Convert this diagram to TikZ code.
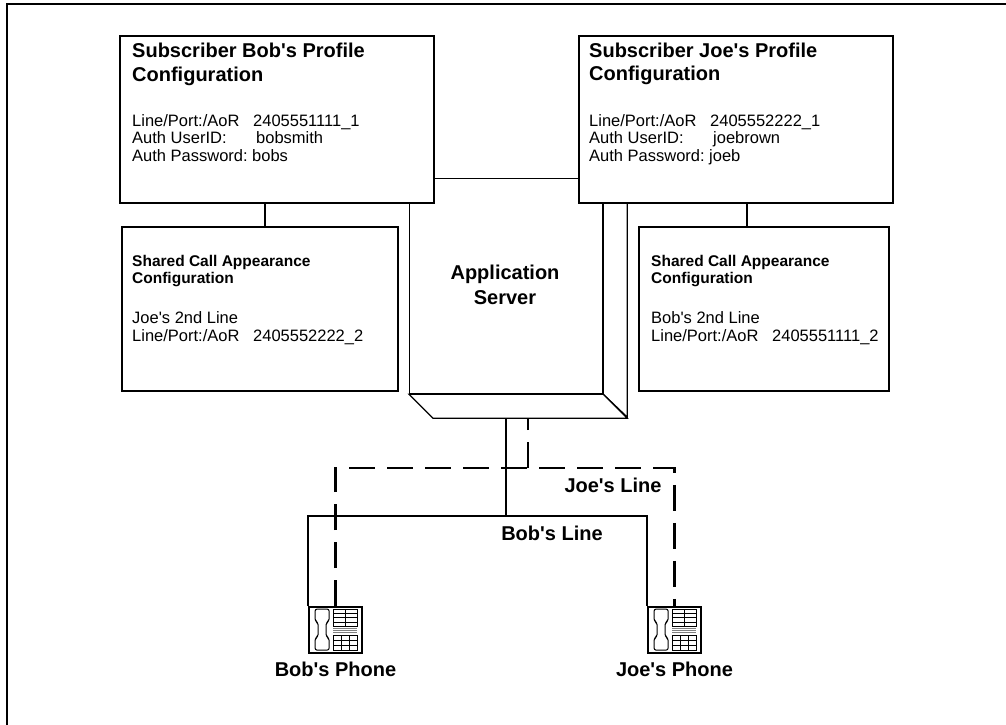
\documentclass[tikz,border=0pt]{standalone}
\usepackage{fontspec}
\setmainfont{Liberation Sans}[Ligatures=TeXOff]
\usetikzlibrary{positioning}

\tikzset{
  cfgbox/.style={draw, line width=1.8pt, fill=white, anchor=north west, inner sep=0pt},
  srvbox/.style={draw, line width=1.2pt, fill=white, anchor=north west, inner sep=0pt,
    minimum width=193pt, minimum height=215pt},
  srvline/.style={line width=1.2pt, fill=white, line join=miter},
  wire/.style={line width=1.3pt},
  joeline/.style={line width=2.4pt, dash pattern=on 26pt off 12pt},
  title/.style={anchor=base west, inner sep=0pt, font=\fontsize{20}{24}\selectfont\bfseries},
  body/.style={anchor=base west, inner sep=0pt, font=\fontsize{16.5}{17.5}\selectfont},
  scatitle/.style={anchor=base west, inner sep=0pt, font=\fontsize{15.5}{17.5}\selectfont\bfseries},
  scabody/.style={anchor=base west, inner sep=0pt, font=\fontsize{16.5}{18.5}\selectfont},
  lbl/.style={inner sep=0pt, font=\fontsize{20}{24}\selectfont\bfseries},
  phone/.style={draw, line width=1.8pt, fill=white, minimum width=53pt, minimum height=46pt, inner sep=0pt},
  keys/.style={line width=0.6pt}
}

% handset and keypads, drawn inside a phone node
\newcommand{\phonekeys}[1]{
  \begin{scope}[shift={(#1.north west)}]
    \draw[line width=1pt, rounded corners=2pt] (7,3) -- (21,3) -- (21,15) -- (18,16.5) -- (18,30.5)
      -- (21,32) -- (21,44) -- (7,44) -- (7,32) -- (10,30.5) -- (10,16.5) -- (7,15) -- cycle;
    \draw[keys] (25,3) rectangle (49,20);
    \draw[keys] (37,3) -- (37,20);
    \foreach \y in {7.25,11.5,15.75} \draw[keys] (25,\y) -- (49,\y);
    \foreach \y in {22,24,26} \draw[line width=0.8pt, gray] (25,\y) -- (49,\y);
    \draw[keys] (25,29) rectangle (49,44);
    \foreach \x in {33,41} \draw[keys] (\x,29) -- (\x,44);
    \foreach \y in {34,39} \draw[keys] (25,\y) -- (49,\y);
  \end{scope}
}

\begin{document}
\begin{tikzpicture}[x=1pt, y=-1pt]
  \useasboundingbox (0,0) rectangle (1006,725);
  \draw[line width=2.5pt] (1006,4) -- (7,4) -- (7,725);

  % application server
  \node[srvbox] (server) at (409,178) {};
  \coordinate (srvbl) at ([shift={(24,24)}]server.south west);
  \draw[srvline] (server.north east) -- ++(24,24) -- ++(0,215) -- (server.south east) -- cycle;
  \draw[srvline] (server.south west) -- (server.south east) -- ++(24,24) -- (srvbl) -- cycle;
  \node[lbl, anchor=base] (srvtext) at (505,279)
    {\begin{tabular}[t]{@{}c@{}}Application\\[1pt]Server\end{tabular}};

  % profile boxes
  \node[cfgbox, minimum width=314pt, minimum height=167pt] (bobprof) at (119,35) {};
  \node[cfgbox, minimum width=314pt, minimum height=167pt] (joeprof) at (578,35) {};
  \node[title] (bobtitle) at (132,58)
    {\begin{tabular}[t]{@{}l@{}}Subscriber Bob's Profile\\Configuration\end{tabular}};
  \node[body] (bobdata) at (132,126)
    {\begin{tabular}[t]{@{}l@{}}\makebox[121pt][l]{Line/Port:/AoR}2405551111\_1\\
      \makebox[124pt][l]{Auth UserID:}bobsmith\\
      \makebox[120pt][l]{Auth Password:}bobs\end{tabular}};
  \node[title] (joetitle) at (589,57)
    {\begin{tabular}[t]{@{}l@{}}Subscriber Joe's Profile\\Configuration\end{tabular}};
  \node[body] (joedata) at (589,126)
    {\begin{tabular}[t]{@{}l@{}}\makebox[121pt][l]{Line/Port:/AoR}2405552222\_1\\
      \makebox[124pt][l]{Auth UserID:}joebrown\\
      \makebox[120pt][l]{Auth Password:}joeb\end{tabular}};

  % shared call appearance boxes
  \node[cfgbox, minimum width=276pt, minimum height=164pt] (bobsca) at (121,226) {};
  \node[cfgbox, minimum width=250pt, minimum height=164pt] (joesca) at (638,226) {};
  \node[scatitle] (bobscatitle) at (132,266)
    {\begin{tabular}[t]{@{}l@{}}Shared Call Appearance\\Configuration\end{tabular}};
  \node[scabody] (bobscadata) at (132,323)
    {\begin{tabular}[t]{@{}l@{}}Joe's 2nd Line\\\makebox[121pt][l]{Line/Port:/AoR}2405552222\_2\end{tabular}};
  \node[scatitle] (joescatitle) at (651,266)
    {\begin{tabular}[t]{@{}l@{}}Shared Call Appearance\\Configuration\end{tabular}};
  \node[scabody] (joescadata) at (651,323)
    {\begin{tabular}[t]{@{}l@{}}Bob's 2nd Line\\\makebox[121pt][l]{Line/Port:/AoR}2405551111\_2\end{tabular}};

  \coordinate (bobdrop) at (265,0);
  \coordinate (joedrop) at (747,0);
  \draw[wire] (bobprof.south -| bobdrop) -- (bobsca.north -| bobdrop);
  \draw[wire] (joeprof.south -| joedrop) -- (joesca.north -| joedrop);

  % phones and lines
  \node[phone] (bobphone) at (335.5,630) {};
  \node[phone] (joephone) at (674.5,630) {};
  \phonekeys{bobphone}
  \phonekeys{joephone}
  \node[lbl, below=8pt of bobphone] (bobphonelbl) {Bob's Phone};
  \node[lbl, below=8pt of joephone] (joephonelbl) {Joe's Phone};

  \coordinate (bobtap) at (506,516);
  \coordinate (joetap) at (528,468);
  \draw[wire] (bobtap |- srvbl) -- (bobtap);
  \draw[wire] (bobphone.north west) |- (bobtap) -| (joephone.north west);
  \draw[joeline] (joetap) -- (joetap |- srvbl);
  \draw[joeline] (bobphone.north) |- (joetap) -| (joephone.north);

  \node[lbl, anchor=base] (bobline) at (552,540) {Bob's Line};
  \node[lbl, anchor=base] (joeline) at (613,492) {Joe's Line};
\end{tikzpicture}
\end{document}
